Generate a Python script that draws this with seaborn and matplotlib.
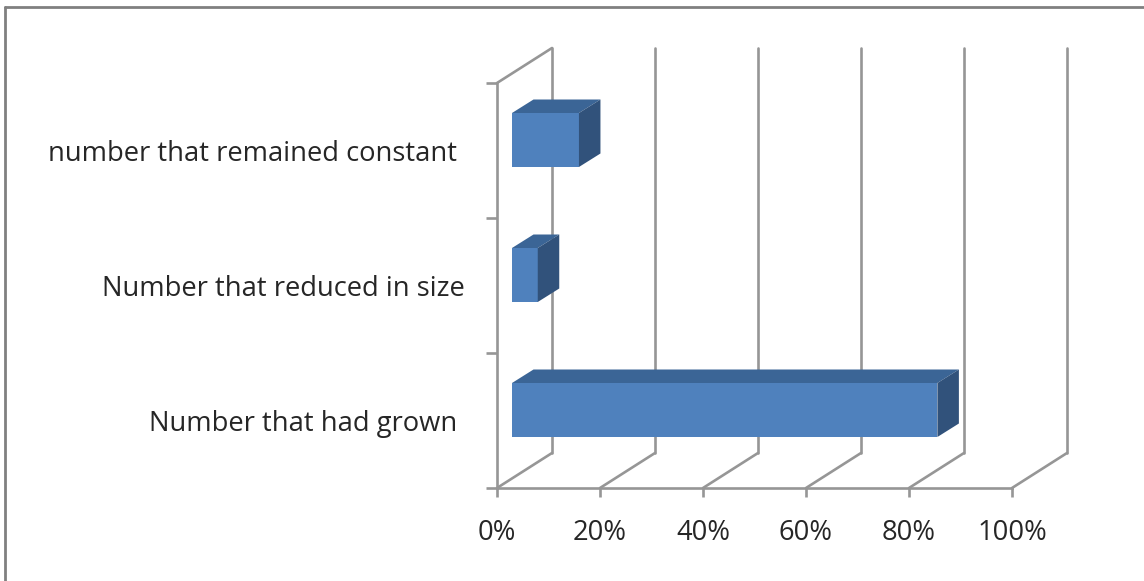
import matplotlib
matplotlib.use("Agg")
import matplotlib.pyplot as plt
from matplotlib.lines import Line2D
from matplotlib.patches import Polygon
import seaborn as sns

# chart values
categories = ["number that remained constant ", "Number that reduced in size", "Number that had grown "]
percent = [13, 5, 82.6]
x_ticks = [0, 20, 40, 60, 80, 100]

W, H = 1144, 581
grid_col = "#969696"
front_col = "#4f81bd"
top_col = "#3b6596"
side_col = "#31527b"
txt_col = "#262626"
txt_size = 19.7

sns.set_theme(style="white")
plt.rcParams["font.family"] = ["Open Sans", "DejaVu Sans"]

fig = plt.figure(figsize=(W / 100, H / 100), dpi=100, facecolor="white")
ax = fig.add_axes([497 / W, (H - 488) / H, 515 / W, 405 / H])

sns.barplot(x=percent, y=categories, color=front_col, saturation=1, width=0.4, ax=ax,
            zorder=3, linewidth=0, edgecolor="none")
ax.set_xlim(0, 100)
ax.set_ylim(2.5, -0.5)

# px to data units, for the fake 3d depth
px_x = 100 / 515
px_y = 3 / 405
wall_dx, wall_dy = 55 * px_x, 35 * px_y
bar_dx, bar_dy = 21.5 * px_x, 13.5 * px_y
shift_x, shift_y = 15 * px_x, 10.5 * px_y
line_w = 1.9

# back wall and floor lines
for t in x_ticks:
    ax.plot([t, t + wall_dx], [2.5, 2.5 - wall_dy], color=grid_col, lw=line_w, clip_on=False, zorder=1)
    ax.plot([t + wall_dx, t + wall_dx], [2.5 - wall_dy, -0.5 - wall_dy], color=grid_col, lw=line_w, clip_on=False, zorder=1)
ax.plot([0, wall_dx], [-0.5, -0.5 - wall_dy], color=grid_col, lw=line_w, clip_on=False, zorder=1)

# move the bars into the box, then add top and side
for p in ax.patches[:len(percent)]:
    p.set_x(p.get_x() + shift_x)
    p.set_y(p.get_y() - shift_y)
    x0, x1 = p.get_x(), p.get_x() + p.get_width()
    y0, y1 = p.get_y(), p.get_y() + p.get_height()
    ax.add_patch(Polygon([(x0, y0), (x1, y0), (x1 + bar_dx, y0 - bar_dy), (x0 + bar_dx, y0 - bar_dy)],
                         facecolor=top_col, edgecolor="none", clip_on=False, zorder=3))
    ax.add_patch(Polygon([(x1, y0), (x1 + bar_dx, y0 - bar_dy), (x1 + bar_dx, y1 - bar_dy), (x1, y1)],
                         facecolor=side_col, edgecolor="none", clip_on=False, zorder=3))

# axes
for s in ["top", "right"]:
    ax.spines[s].set_visible(False)
for s in ["left", "bottom"]:
    ax.spines[s].set_color(grid_col)
    ax.spines[s].set_linewidth(line_w)

ax.set_xticks(x_ticks)
ax.set_xticklabels([f"{t}%" for t in x_ticks])
ax.tick_params(axis="x", length=6.5, width=line_w, color=grid_col, pad=16, labelsize=txt_size, labelcolor=txt_col, bottom=True)

ax.set_yticks([-0.5, 0.5, 1.5, 2.5])
ax.set_yticklabels([])
ax.set_yticks([0, 1, 2], labels=categories, minor=True)
ax.tick_params(axis="y", which="major", length=8, width=line_w, color=grid_col, left=True)
ax.tick_params(axis="y", which="minor", length=0, pad=23.5, labelsize=txt_size, labelcolor=txt_col)
ax.set_ylabel("")
ax.set_xlabel("")

# outer frame, only top and left are in the picture
fig.add_artist(Line2D([5 / W, 5 / W], [0, 1 - 7 / H], color="#808080", lw=2))
fig.add_artist(Line2D([5 / W, 1], [1 - 7 / H, 1 - 7 / H], color="#808080", lw=2))

fig.savefig("out.png", dpi=100)
